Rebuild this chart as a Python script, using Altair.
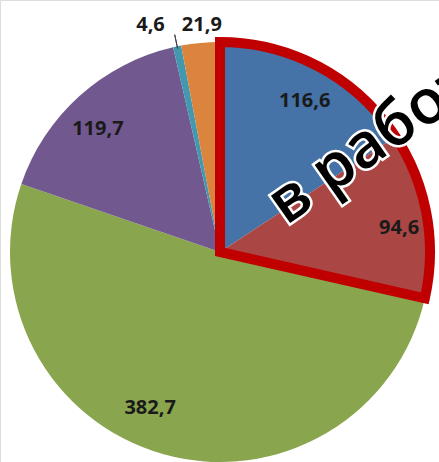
import math
import altair as alt
import pandas as pd

categories = ["Категория 1", "Категория 2", "Категория 3", "Категория 4", "Категория 5", "Категория 6"]
values = [116.6, 94.6, 382.7, 119.7, 4.6, 21.9]
labels = ["116,6", "94,6", "382,7", "119,7", "4,6", "21,9"]
colors = ["#4572A7", "#AA4643", "#89A54E", "#71588F", "#4198AF", "#DB843D"]
annotation = "в работе"

df = pd.DataFrame({"cat": categories, "value": values, "label": labels, "idx": list(range(len(values)))})

CX, CY, R = 220, 252, 210
total = sum(values)
outline_end = 2 * math.pi * (values[0] + values[1]) / total
teal_mid = 2 * math.pi * (sum(values[:4]) + values[4] / 2) / total

base = alt.Chart(df).encode(
    theta=alt.Theta("value:Q", stack=True),
    order=alt.Order("idx:Q"),
    x=alt.value(CX),
    y=alt.value(CY),
)

pie = base.mark_arc(outerRadius=R).encode(
    color=alt.Color("cat:N", scale=alt.Scale(domain=categories, range=colors), legend=None)
)

def label_layer(idxs, radius, dx=0, dy=0):
    cond = " || ".join(f"datum.idx == {i}" for i in idxs)
    return base.transform_calculate(t=f"({cond}) ? datum.label : ''").mark_text(
        radius=radius, dx=dx, dy=dy, font="Open Sans", fontSize=20, fontWeight="bold",
        color="#1a1a1a", align="center", baseline="middle"
    ).encode(text="t:N")

lab_blue = label_layer([0], 172, 3, 0)
lab_purple = label_layer([3], 172, -7, 5)
lab_red = label_layer([1], 182, 0, 8)
lab_green = label_layer([2], 172, -23, -9)
lab_orange = label_layer([5], 228, 3, 0)
lab_teal = label_layer([4], 228, -23, -4)

one = pd.DataFrame({"t": [annotation]})

outline = alt.Chart(one).mark_arc(
    outerRadius=R, filled=False, stroke="#C00000", strokeWidth=10, strokeJoin="miter"
).encode(theta=alt.value(0), theta2=alt.value(outline_end), x=alt.value(CX), y=alt.value(CY))

leader = alt.Chart(one).mark_arc(
    innerRadius=R - 2, outerRadius=R + 12, filled=False, stroke="#404040", strokeWidth=1
).encode(theta=alt.value(teal_mid), theta2=alt.value(teal_mid), x=alt.value(CX), y=alt.value(CY))

ann_style = dict(font="Open Sans", fontSize=62, fontWeight=600, angle=325, align="left", baseline="alphabetic")
ann_bg = alt.Chart(one).mark_text(stroke="white", strokeWidth=5, color="white", **ann_style).encode(
    text="t:N", x=alt.value(286), y=alt.value(226))
ann_fg = alt.Chart(one).mark_text(color="black", **ann_style).encode(
    text="t:N", x=alt.value(286), y=alt.value(226))

chart = alt.layer(
    pie, outline, leader, lab_blue, lab_purple, lab_red, lab_green, lab_orange, lab_teal, ann_bg, ann_fg
).properties(
    width=439, height=462, autosize=alt.AutoSizeParams(type="none"), padding=0
).configure_view(stroke=None).configure(background="white")

chart.save("out.html", embed_options={"renderer": "svg", "actions": False})
